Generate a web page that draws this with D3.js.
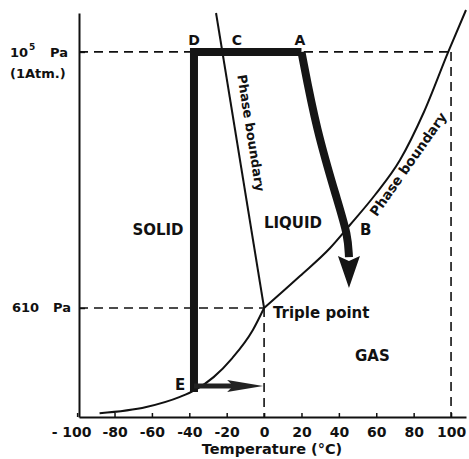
<!DOCTYPE html>
<html>
<head>
    <title>Phase diagram of water</title>
    <script src="https://cdn.jsdelivr.net/npm/d3@7"></script>
    <style>
        body { margin: 0; background: #fff; }
        text { font-family: "DejaVu Sans", sans-serif; font-weight: bold; fill: #111; }
    </style>
</head>
<body>
    <svg width="469" height="459" id="mainSvg"></svg>
    <script>
        // temperature axis (deg C)
        const tempTicks = [-100, -80, -60, -40, -20, 0, 20, 40, 60, 80, 100];
        const tempLabels = ["- 100", "-80", "-60", "-40", "-20", "0", "20", "40", "60", "80", "100"];
        const tempExtent = [-99, 108];
        // pressure axis (Pa, log)
        const pressTicks = [1e5, 610];
        const pressExtent = [69.6, 2.17e5];

        // sublimation curve (solid / gas)
        const subTemps = [-88, -63, -45, -37, -27, -17, -6, 0];
        const subPress = [75, 85, 104, 119, 154, 225, 394, 610];
        // vaporisation curve (liquid / gas)
        const vapTemps = [0, 19.2, 35.3, 45.9, 59.3, 72.7, 85.5, 98.5, 108];
        const vapPress = [610, 1153, 2014, 3184, 5788, 11620, 30220, 1e5, 230300];
        // melting curve
        const meltTemps = [-25.7, 0];
        const meltPress = [2.17e5, 610];

        // process paths
        const dTemp = -37.5, ePress = 114.5;
        const aTemp = 20;
        const abTemps = [20, 28, 39.5, 44.8, 45.4];
        const abPress = [1e5, 21100, 5000, 2600, 1680];
        const bTip = [45.4, 910];
        const eArrowTemps = [-37.5, -0.5];
        const eArrowPress = 129;

        const mainSvg = d3.select("#mainSvg");
        mainSvg.append("rect").attr("width", 469).attr("height", 459).attr("fill", "#fff");

        const x = d3.scaleLinear().domain(tempExtent).range([79, 466]);
        const y = d3.scaleLog().domain(pressExtent).range([417, 13]);

        // axes
        const xAxis = mainSvg.append("g")
            .attr("transform", `translate(0,${y(pressExtent[0])})`)
            .call(d3.axisBottom(x).tickValues(tempTicks).tickSizeInner(-4).tickSizeOuter(0)
                .tickPadding(10).tickFormat((d, i) => tempLabels[i]));
        xAxis.select(".domain").attr("stroke", "#111").attr("stroke-width", 2);
        xAxis.selectAll(".tick line").attr("stroke", "#111").attr("stroke-width", 1.5);
        xAxis.selectAll(".tick text").attr("font-size", 14).attr("font-family", "DejaVu Sans")
            .attr("font-weight", "bold").attr("fill", "#111")
            .attr("dx", (d, i) => i === 0 ? -6 : 0);

        const yAxis = mainSvg.append("g")
            .attr("transform", `translate(${x(tempExtent[0])},0)`)
            .call(d3.axisLeft(y).tickValues(pressTicks).tickSizeInner(-6).tickSizeOuter(0).tickFormat(""));
        yAxis.select(".domain").attr("stroke", "#111").attr("stroke-width", 2);
        yAxis.selectAll(".tick line").attr("stroke", "#111").attr("stroke-width", 1.5);

        // y labels
        const y1 = y(1e5), y2 = y(610);
        mainSvg.append("text").attr("x", 10).attr("y", y1 + 5).attr("font-size", 13).text("10");
        mainSvg.append("text").attr("x", 29).attr("y", y1 - 2).attr("font-size", 9).text("5");
        mainSvg.append("text").attr("x", 68).attr("y", y1 + 5).attr("font-size", 13)
            .attr("text-anchor", "end").text("Pa");
        mainSvg.append("text").attr("x", 10).attr("y", y1 + 26).attr("font-size", 13).text("(1Atm.)");
        mainSvg.append("text").attr("x", 12).attr("y", y2 + 4).attr("font-size", 13).text("610");
        mainSvg.append("text").attr("x", 71).attr("y", y2 + 4).attr("font-size", 13)
            .attr("text-anchor", "end").text("Pa");

        mainSvg.append("text").attr("x", 272).attr("y", 454).attr("font-size", 14.5)
            .attr("text-anchor", "middle").text("Temperature (°C)");

        // dashed guides
        const dash = (t1, p1, t2, p2) => mainSvg.append("line")
            .attr("x1", x(t1)).attr("y1", y(p1)).attr("x2", x(t2)).attr("y2", y(p2))
            .attr("stroke", "#111").attr("stroke-width", 1.6).attr("stroke-dasharray", "9,6");
        dash(tempExtent[0], 1e5, 99.5, 1e5);
        dash(tempExtent[0], 610, 0, 610);
        dash(0, 610, 0, pressExtent[0]);
        dash(100, 1e5, 100, pressExtent[0]);

        // phase boundaries
        const line = d3.line().x(d => x(d[0])).y(d => y(d[1]));
        [[subTemps, subPress], [vapTemps, vapPress]].forEach(([ts, ps]) => {
            mainSvg.append("path")
                .attr("d", line.curve(d3.curveMonotoneX)(ts.map((t, i) => [t, ps[i]])))
                .attr("fill", "none").attr("stroke", "#111").attr("stroke-width", 2);
        });
        mainSvg.append("path")
            .attr("d", line.curve(d3.curveLinear)(meltTemps.map((t, i) => [t, meltPress[i]])))
            .attr("fill", "none").attr("stroke", "#111").attr("stroke-width", 2);

        // thick process paths
        mainSvg.append("path")
            .attr("d", line.curve(d3.curveLinear)([[dTemp, ePress], [dTemp, 1e5], [aTemp, 1e5]]))
            .attr("fill", "none").attr("stroke", "#151515").attr("stroke-width", 8)
            .attr("stroke-linejoin", "miter");
        mainSvg.append("path")
            .attr("d", line.curve(d3.curveBasis)(abTemps.map((t, i) => [t, abPress[i]])))
            .attr("fill", "none").attr("stroke", "#151515").attr("stroke-width", 8)
            .attr("stroke-linejoin", "round");
        const bx = x(bTip[0]), by = y(bTip[1]);
        mainSvg.append("path")
            .attr("d", `M${bx},${by}L${bx - 11},${by - 32}L${bx},${by - 27}L${bx + 11},${by - 32}Z`)
            .attr("fill", "#151515");

        // E arrow
        const ey = y(eArrowPress);
        mainSvg.append("line")
            .attr("x1", x(eArrowTemps[0])).attr("y1", ey).attr("x2", x(eArrowTemps[1]) - 20).attr("y2", ey)
            .attr("stroke", "#222").attr("stroke-width", 5);
        const ex = x(eArrowTemps[1]);
        mainSvg.append("path")
            .attr("d", `M${ex},${ey}L${ex - 36},${ey - 6}L${ex - 30},${ey}L${ex - 36},${ey + 6}Z`)
            .attr("fill", "#222");

        // labels
        const label = (txt, px, py, size, anchor) => mainSvg.append("text")
            .attr("x", px).attr("y", py).attr("font-size", size)
            .attr("text-anchor", anchor || "middle").text(txt);
        label("D", x(dTemp), 45, 14);
        label("C", 237, 45, 14);
        label("A", 300, 45, 14);
        label("B", 360, 235, 15, "start");
        label("E", 180, 390, 15);
        label("SOLID", 158, 235, 15);
        label("LIQUID", 293, 228, 15);
        label("Triple point", 273, 318, 15, "start");
        label("GAS", 355, 361, 15, "start");

        mainSvg.append("text").attr("transform", "translate(251,133) rotate(81)")
            .attr("font-size", 13).attr("text-anchor", "middle").attr("dominant-baseline", "central")
            .text("Phase boundary");
        mainSvg.append("text").attr("transform", "translate(408,164) rotate(-55)")
            .attr("font-size", 13.5).attr("text-anchor", "middle").attr("dominant-baseline", "central")
            .text("Phase boundary");
    </script>
</body>
</html>
